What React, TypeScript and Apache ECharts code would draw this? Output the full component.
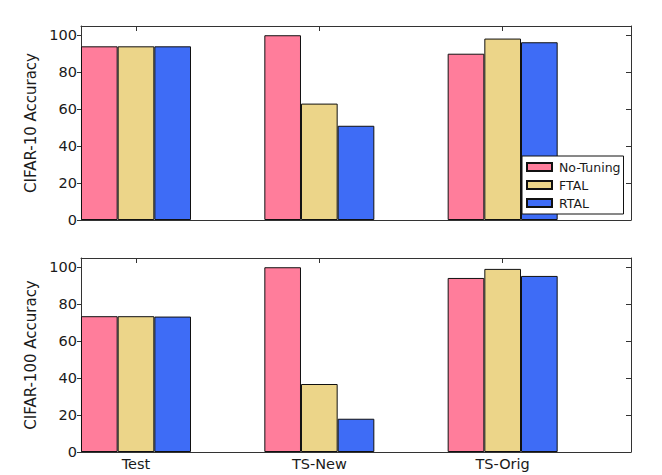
import React, { useEffect, useRef } from "react";
import * as echarts from "echarts";

const categories = ["Test", "TS-New", "TS-Orig"];
const seriesNames = ["No-Tuning", "FTAL", "RTAL"];
const cifar10NoTuning = [94, 100, 90];
const cifar10FTAL = [94, 63, 98.2];
const cifar10RTAL = [94, 51, 96.2];
const cifar100NoTuning = [73.5, 100, 94.2];
const cifar100FTAL = [73.5, 36.8, 99.1];
const cifar100RTAL = [73.3, 18, 95.3];
const yTicks = [0, 20, 40, 60, 80, 100];
const xTicks = [0, 1, 2];
const colors = ["#ff7d9b", "#ecd589", "#3e6cf6"];

const FONT = "DejaVu Sans";

export default function App() {
  const ref = useRef<HTMLDivElement>(null);
  useEffect(() => {
    if (!ref.current) return;
    const chart = echarts.init(ref.current, null, { renderer: "svg" });
    const lineStyle = { color: "#333", width: 1 };
    const mkX = (grid: number, bottom: boolean) => [
      {
        type: "value",
        gridIndex: grid,
        min: -0.3,
        max: 2.7,
        position: "bottom",
        axisLine: { show: true, onZero: false, lineStyle },
        axisTick: { show: true, inside: true, length: 5, customValues: xTicks, lineStyle },
        axisLabel: {
          show: bottom,
          customValues: xTicks,
          formatter: (v: number) => categories[Math.round(v)] ?? "",
          fontFamily: FONT,
          fontSize: 14.5,
          color: "#1a1a1a",
          margin: 4,
        },
        splitLine: { show: false },
      },
      {
        type: "value",
        gridIndex: grid,
        min: -0.3,
        max: 2.7,
        position: "top",
        axisLine: { show: true, onZero: false, lineStyle },
        axisTick: { show: true, inside: true, length: 5, customValues: xTicks, lineStyle },
        axisLabel: { show: false },
        splitLine: { show: false },
      },
    ];
    const mkY = (grid: number, name: string) => [
      {
        type: "value",
        gridIndex: grid,
        min: 0,
        max: 105,
        position: "left",
        name,
        nameLocation: "middle",
        nameRotate: 90,
        nameGap: 42,
        nameTextStyle: { fontFamily: FONT, fontSize: 15, color: "#1a1a1a" },
        axisLine: { show: true, onZero: false, lineStyle },
        axisTick: { show: true, inside: false, length: 4, customValues: yTicks, lineStyle },
        axisLabel: { customValues: yTicks, fontFamily: FONT, fontSize: 14.5, color: "#1a1a1a", margin: 4 },
        splitLine: { show: false },
      },
      {
        type: "value",
        gridIndex: grid,
        min: 0,
        max: 105,
        position: "right",
        axisLine: { show: true, onZero: false, lineStyle },
        axisTick: { show: true, inside: true, length: 5, customValues: yTicks, lineStyle },
        axisLabel: { show: false },
        splitLine: { show: false },
      },
    ];
    const groups = [
      [cifar10NoTuning, cifar10FTAL, cifar10RTAL],
      [cifar100NoTuning, cifar100FTAL, cifar100RTAL],
    ];
    const series: any[] = [];
    groups.forEach((g, gi) => {
      g.forEach((vals, si) => {
        series.push({
          type: "bar",
          name: seriesNames[si],
          xAxisIndex: gi * 2,
          yAxisIndex: gi * 2,
          data: vals.map((v, i) => [xTicks[i], v]),
          barWidth: 36.67,
          barGap: "0%",
          itemStyle: { color: colors[si], borderColor: "#111", borderWidth: 1 },
        });
      });
    });
    chart.setOption({
      animation: false,
      backgroundColor: "#fff",
      grid: [
        { left: 81, top: 26, width: 550, height: 194 },
        { left: 81, top: 258, width: 550, height: 194 },
      ],
      xAxis: [...mkX(0, false), ...mkX(1, true)],
      yAxis: [...mkY(0, "CIFAR-10 Accuracy"), ...mkY(1, "CIFAR-100 Accuracy")],
      legend: {
        data: seriesNames,
        orient: "vertical",
        left: 522,
        top: 156,
        padding: [4, 3, 4, 4],
        itemWidth: 25,
        itemHeight: 8,
        itemGap: 4,
        backgroundColor: "#fff",
        borderColor: "#111",
        borderWidth: 1,
        borderRadius: 0,
        icon: "rect",
        textStyle: {
          fontFamily: FONT,
          fontSize: 12.5,
          lineHeight: 14,
          color: "#1a1a1a",
          padding: [0, 0, 0, 2],
        },
        selectedMode: false,
      },
      series,
    });
    return () => chart.dispose();
  }, []);
  return (
    <div
      ref={ref}
      style={{ position: "fixed", left: 0, top: 0, width: 662, height: 475 }}
    />
  );
}
